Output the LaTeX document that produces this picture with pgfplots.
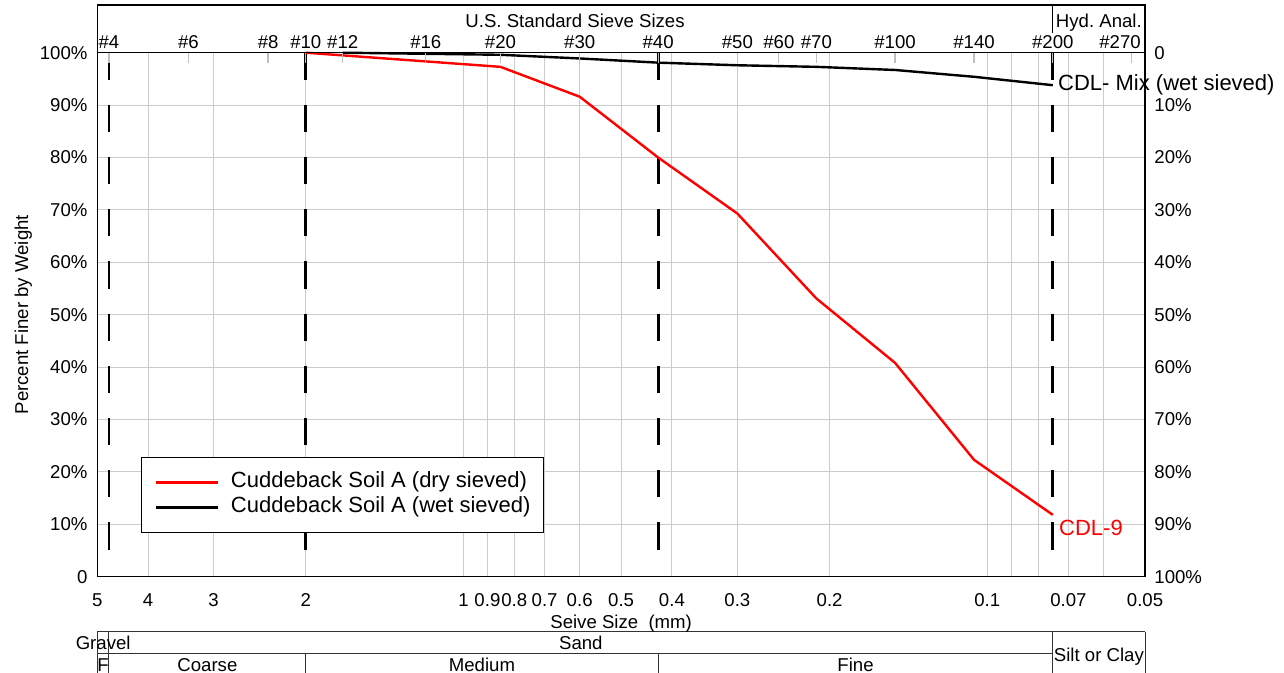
\documentclass[border=0pt]{standalone}
\usepackage{fontspec}
\setmainfont{Liberation Sans}
\usepackage{pgfplots}
\pgfplotsset{compat=1.18}
\tikzset{lab/.style={inner sep=0pt, text height=6.7pt, text depth=0pt}}
\frenchspacing

\begin{document}
\begin{tikzpicture}[font=\fontsize{9.3}{11}\selectfont]
\begin{axis}[
  at={(0,0)}, anchor=south west, scale only axis,
  width=523.85pt, height=262pt,
  xmode=log, x dir=reverse, xmin=0.05, xmax=5, ymin=0, ymax=100,
  axis line style={line width=0.7pt},
  clip=false,
  xtick={5,4,3,2,1,0.9,0.8,0.7,0.6,0.5,0.4,0.3,0.2,0.1,0.07,0.05},
  xticklabels={5,4,3,2,1,0.9,0.8,0.7,0.6,0.5,0.4,0.3,0.2,0.1,0.07,0.05},
  minor xtick={0.09,0.08,0.06},
  ytick={0,10,...,100},
  yticklabels={0,10\%,20\%,30\%,40\%,50\%,60\%,70\%,80\%,90\%,100\%},
  grid=both,
  major grid style={black!20, line width=0.5pt},
  minor grid style={black!20, line width=0.5pt},
  major tick length=0pt, minor tick length=0pt,
  xticklabel style={anchor=north, inner sep=0pt, yshift=-8.2pt},
  yticklabel style={anchor=east, inner sep=0pt, xshift=-4.75pt},
  xlabel={Seive Size\ \ (mm)},
  ylabel={Percent Finer by Weight},
  every axis x label/.style={at={(axis description cs:0.5,-0.0865)}, anchor=center, lab},
  every axis y label/.style={at={(axis description cs:-0.0725,0.5)}, anchor=center, rotate=90, lab},
  legend style={at={(rel axis cs:0.0417,0.0835)}, anchor=south west,
    draw=black, line width=0.6pt, font=\fontsize{11}{12.5}\selectfont,
    inner xsep=6.5pt, inner ysep=6.2pt,
    nodes={inner sep=0pt, text height=9pt, text depth=3.5pt},
    /tikz/every odd column/.append style={column sep=6pt}},
  legend cell align=left,
  legend image code/.code={\draw[#1] (0pt,0pt) -- (31pt,0pt);},
]
% sieve-size reference lines (#4, #10, #40, #200)
\pgfplotsinvokeforeach{4.75,2.0,0.425,0.075}{
  \draw[black, line width=1.4pt, dash pattern=on 13.6pt off 12.5pt]
    (axis cs:#1,100) -- (axis cs:#1,4.9);
}

\addplot[red, line width=1.2pt] coordinates {
  (2.0,100) (0.85,97.3) (0.6,91.6) (0.425,80.0) (0.3,69.3)
  (0.212,53.1) (0.15,40.8) (0.106,22.3) (0.075,11.8)
};
\addlegendentry{Cuddeback Soil A (dry sieved)}
\addplot[black, line width=1.2pt] coordinates {
  (1.7,100) (0.85,99.6) (0.6,98.9) (0.425,98.1) (0.3,97.6)
  (0.212,97.3) (0.15,96.7) (0.106,95.4) (0.075,93.8)
};
\addlegendentry{Cuddeback Soil A (wet sieved)}

\node[anchor=west, xshift=2.5pt, font=\fontsize{11}{12}\selectfont, inner sep=0pt]
  at (axis cs:0.075,93.9) {CDL- Mix (wet sieved)};
\node[anchor=west, xshift=3pt, red, font=\fontsize{11}{12}\selectfont, inner sep=0pt]
  at (axis cs:0.075,9.3) {CDL-9};

% header box above the plot
\draw[line width=0.6pt] (axis cs:5,100) -- (axis cs:5,109.1) -- (axis cs:0.05,109.1) -- (axis cs:0.05,100);
\draw[line width=0.6pt] (axis cs:0.075,109.1) -- (axis cs:0.075,103.76);
\node[lab] at (axis cs:0.6124,106.04) {U.S. Standard Sieve Sizes};
\node[lab] at (axis cs:0.06124,106.04) {Hyd. Anal.};

% soil classification strip
\draw[line width=0.5pt, black!80]
  (axis cs:5,-10.55) -- (axis cs:0.05,-10.55)
  (axis cs:5,-14.58) -- (axis cs:0.075,-14.58)
  (axis cs:5,-10.55) -- (axis cs:5,-19)
  (axis cs:4.75,-10.55) -- (axis cs:4.75,-19)
  (axis cs:0.075,-10.55) -- (axis cs:0.075,-19)
  (axis cs:0.05,-10.55) -- (axis cs:0.05,-19)
  (axis cs:2.0,-14.58) -- (axis cs:2.0,-19)
  (axis cs:0.425,-14.58) -- (axis cs:0.425,-19);
\node[lab] at (axis cs:4.873,-12.65) {Gravel};
\node[lab] at (axis cs:0.5969,-12.65) {Sand};
\node[lab] at (axis cs:4.873,-16.85) {F};
\node[lab] at (axis cs:3.082,-16.85) {Coarse};
\node[lab] at (axis cs:0.922,-16.85) {Medium};
\node[lab] at (axis cs:0.1785,-16.85) {Fine};
\node[lab] at (axis cs:0.06124,-14.94) {Silt or Clay};
\end{axis}

% top sieve numbers and right-hand percent-retained scale
\begin{axis}[
  at={(0,0)}, anchor=south west, scale only axis,
  width=523.85pt, height=262pt,
  xmode=log, x dir=reverse, xmin=0.05, xmax=5, ymin=0, ymax=100,
  axis line style={line width=0.7pt},
  axis x line*=top, axis y line*=right, y dir=reverse,
  xtick={4.75,3.35,2.36,2.0,1.7,1.18,0.85,0.6,0.425,0.3,0.25,0.212,0.15,0.106,0.075,0.053},
  xticklabels={\#4,\#6,\#8,\#10,\#12,\#16,\#20,\#30,\#40,\#50,\#60,\#70,\#100,\#140,\#200,\#270\hspace*{11.7pt}},
  xtick style={black!25, line width=0.6pt}, major tick length=5pt, tick align=inside,
  minor tick length=0pt,
  ytick={0,10,...,100},
  yticklabels={0,10\%,20\%,30\%,40\%,50\%,60\%,70\%,80\%,90\%,100\%},
  ytick style={draw=none},
  xticklabel style={anchor=base, inner sep=0pt, yshift=1.85pt},
  yticklabel style={anchor=west, inner sep=0pt, xshift=4.5pt},
]
\end{axis}

\pgfresetboundingbox
\path[use as bounding box] (-48.65pt,-48.15pt) rectangle (593.35pt,288.35pt);
\end{tikzpicture}
\end{document}
